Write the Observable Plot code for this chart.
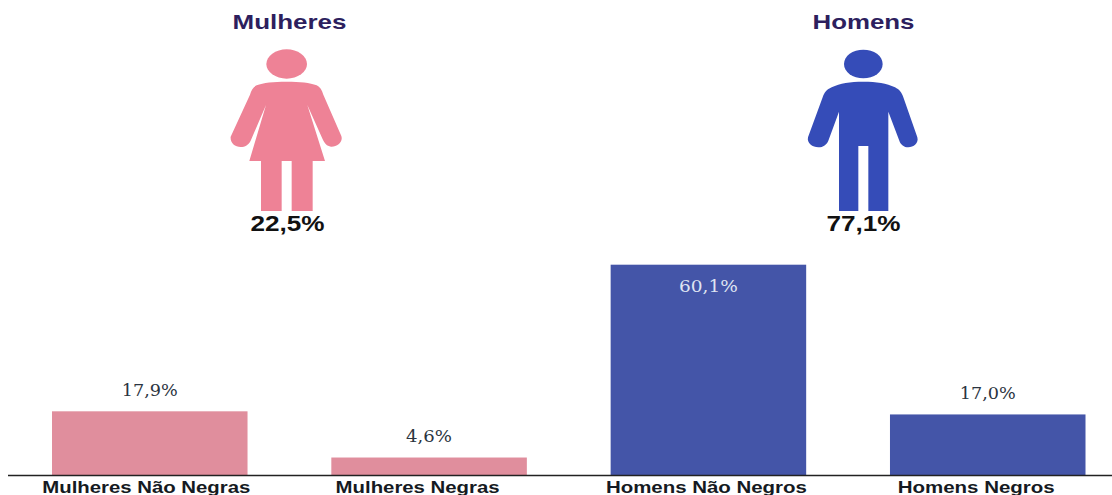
<!DOCTYPE html>
<html lang="pt">
<head>
<meta charset="utf-8">
<script src="https://cdn.jsdelivr.net/npm/d3@7"></script>
<script src="https://cdn.jsdelivr.net/npm/@observablehq/plot@0.6"></script>
<style>
  html, body { margin: 0; padding: 0; background: #fff; overflow: hidden; }
  svg { display: block; }
</style>
</head>
<body>
<div id="chart"></div>
<script>
const categories = ["Mulheres Não Negras", "Mulheres Negras", "Homens Não Negros", "Homens Negros"];
const values = [17.9, 4.6, 60.1, 17.0];
const valueLabels = ["17,9%", "4,6%", "60,1%", "17,0%"];
const groups = ["Mulheres", "Homens"];
const groupLabels = ["22,5%", "77,1%"];

const table = categories.map((c, i) => ({c, v: values[i], label: valueLabels[i]}));
const barColor = c => c.startsWith("Mulheres") ? "#e08e9d" : "#4455a8";

// Category labels sit slightly off their bars' centres in the reference.
const labelShift = new Map([
  ["Mulheres Não Negras", -4], ["Mulheres Negras", -12], ["Homens Não Negros", -2.5], ["Homens Negros", -12]
]);

// Pictograms, traced in crop coordinates (3x, offset from each icon's origin)
const womanPath = "M260,245 C300,245 330,248 350,256 C360,261 366,270 370,284 L424,408 C430,425 412,441 393,440 C380,439 374,430 368,418 L322,315 L375,483 L338,483 L338,633 L275,633 L275,483 L245,483 L245,633 L183,633 L183,483 L148,483 L198,315 L152,422 C146,434 135,441 122,441 C104,441 90,428 92,410 L150,284 C154,270 160,261 170,256 C190,248 220,245 260,245 Z";
const manPath = "M250,245 C290,245 320,250 345,262 C358,269 365,277 370,292 L412,412 C417,430 400,442 385,442 C372,442 362,434 358,422 L325,335 L325,633 L265,633 L265,438 L235,438 L235,633 L177,633 L177,335 L145,422 C140,434 130,442 115,442 C98,442 80,430 84,412 L128,292 C133,277 140,269 155,262 C180,250 210,245 250,245 Z";
const icons = [
  {path: womanPath, head: [260, 192, 61, 44], fill: "#ee8296", ox: 200},
  {path: manPath, head: [250, 192, 58, 43], fill: "#354cb8", ox: 780}
];

const pictograms = () => {
  const g = d3.create("svg:g");
  for (const ic of icons) {
    const s = g.append("g").attr("transform", `translate(${ic.ox},0) scale(${1 / 3})`).attr("fill", ic.fill);
    s.append("ellipse").attr("cx", ic.head[0]).attr("cy", ic.head[1]).attr("rx", ic.head[2]).attr("ry", ic.head[3]);
    s.append("path").attr("d", ic.path);
  }
  return g.node();
};

const marginLeft = 8;
const heading = (text, cx, cy, size, fill) => Plot.text([text], {
  text: d => d, frameAnchor: "top-left", textAnchor: "middle", lineAnchor: "middle",
  dx: cx - marginLeft, dy: cy, fontSize: size, fontWeight: 700, fontFamily: "Liberation Sans", fill
});

const serif = "DejaVu Serif";
const chart = Plot.plot({
  width: 1112,
  height: 495,
  marginLeft,
  marginRight: 0,
  marginTop: 0,
  marginBottom: 0,
  style: {background: "#fff", overflow: "visible"},
  x: {type: "band", domain: categories, range: [52, 1085.5], paddingInner: 0.3, paddingOuter: 0, round: false, axis: null},
  y: {domain: [0, 60.1], range: [473.5, 264.7], axis: null},
  marks: [
    Plot.barY(table, {x: "c", y: "v", fill: d => barColor(d.c), insetBottom: -1.5}),
    Plot.ruleY([0], {stroke: "#222", strokeWidth: 1.6, dy: 1.5}),
    Plot.text(table.filter(d => d.v < 50), {
      x: "c", y: "v", text: "label", dy: -21, dx: -0.5, fontSize: 17, fontFamily: serif, fill: "#2b3440", lineAnchor: "middle"
    }),
    Plot.text(table.filter(d => d.v >= 50), {
      x: "c", y: "v", text: "label", dy: 21, dx: -0.5, fontSize: 17, fontFamily: serif, fill: "#dfe4f2", lineAnchor: "middle"
    }),
    ...table.map(d => Plot.text([d], {
      x: "c", y: () => 0, text: "c", dy: 13.5, dx: labelShift.get(d.c),
      fontSize: 16, fontWeight: 700, fontFamily: "Liberation Sans", fill: "#151a22", lineAnchor: "middle"
    })),
    pictograms,
    heading(groups[0], 289, 21.5, 21, "#2d1f5e"),
    heading(groups[1], 863, 21.5, 21, "#2d1f5e"),
    heading(groupLabels[0], 287, 223, 22, "#111"),
    heading(groupLabels[1], 863, 223, 22, "#111")
  ]
});

// The reference's type is stretched horizontally: fit each text to its measured width.
const textWidths = new Map([
  ["Mulheres", 114], ["Homens", 102],
  ["22,5%", 74], ["77,1%", 74],
  ["17,9%", 56], ["4,6%", 46], ["60,1%", 59], ["17,0%", 56],
  ["Mulheres Não Negras", 208], ["Mulheres Negras", 164], ["Homens Não Negros", 201], ["Homens Negros", 157]
]);
chart.querySelectorAll("text").forEach(t => {
  const w = textWidths.get(t.textContent);
  if (w) { t.setAttribute("textLength", w); t.setAttribute("lengthAdjust", "spacingAndGlyphs"); }
});
document.getElementById("chart").append(chart);
</script>
</body>
</html>
